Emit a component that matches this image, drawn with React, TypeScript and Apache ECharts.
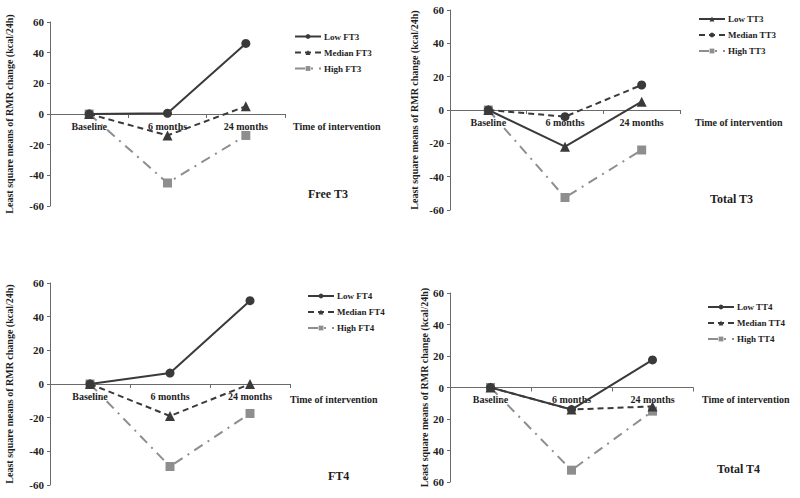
import React, { useEffect, useRef } from "react";
import * as echarts from "echarts";

const categories = ["Baseline", "6 months", "24 months"];
const yTicks = { min: -60, max: 60, interval: 20 };

// Panel 1: Free T3
const lowFT3 = [0, 0.5, 46];
const medianFT3 = [0, -14, 5];
const highFT3 = [0, -45, -14];
// Panel 2: Total T3
const lowTT3 = [0, -22, 5];
const medianTT3 = [0, -4, 15];
const highTT3 = [0, -52.5, -24];
// Panel 3: FT4
const lowFT4 = [0, 6.5, 49.5];
const medianFT4 = [0, -19, 0];
const highFT4 = [0, -49, -17.5];
// Panel 4: Total T4
const lowTT4 = [0, -14, 17.5];
const medianTT4 = [0, -14, -12];
const highTT4 = [0, -52.5, -15];

const panelTitles = ["Free T3", "Total T3", "FT4", "Total T4"];
const xAxisTitle = "Time of intervention";
const yAxisTitle = "Least square means of RMR change (kcal/24h)";

const FONT = "'Liberation Serif', 'DejaVu Serif', serif";
const DARK = "#3a3a3a";
const LIGHT = "#8e8e8e";
const TEXT = "#1e1e1e";

type Panel = {
  grid: { left: number; top: number; width: number; height: number };
  names: string[];
  symbols: string[];
  data: number[][];
  legend: { left: number; top: number };
  nameGap: number;
  absLabels?: boolean;
  xTitle: { x: number; y: number };
  title: { x: number; y: number; text: string };
};

const panels: Panel[] = [
  {
    grid: { left: 50, top: 22, width: 235, height: 184 },
    names: ["Low FT3", "Median FT3", "High FT3"],
    symbols: ["circle", "triangle", "rect"],
    data: [lowFT3, medianFT3, highFT3],
    legend: { left: 294, top: 32 },
    nameGap: 36,
    xTitle: { x: 293, y: 127 },
    title: { x: 308, y: 195, text: panelTitles[0] },
  },
  {
    grid: { left: 450, top: 10, width: 230, height: 200 },
    names: ["Low TT3", "Median TT3", "High TT3"],
    symbols: ["triangle", "circle", "rect"],
    data: [lowTT3, medianTT3, highTT3],
    legend: { left: 698, top: 14.5 },
    nameGap: 31,
    xTitle: { x: 695, y: 123 },
    title: { x: 710, y: 200, text: panelTitles[1] },
  },
  {
    grid: { left: 50, top: 283, width: 240, height: 202 },
    names: ["Low FT4", "Median FT4", "High FT4"],
    symbols: ["circle", "triangle", "rect"],
    data: [lowFT4, medianFT4, highFT4],
    legend: { left: 307, top: 291.5 },
    nameGap: 36,
    xTitle: { x: 290, y: 400 },
    title: { x: 328, y: 477, text: panelTitles[2] },
  },
  {
    grid: { left: 450, top: 293, width: 243, height: 189 },
    names: ["Low TT4", "Median TT4", "High TT4"],
    symbols: ["circle", "triangle", "rect"],
    data: [lowTT4, medianTT4, highTT4],
    legend: { left: 707, top: 302.5 },
    nameGap: 21,
    absLabels: true,
    xTitle: { x: 702, y: 400 },
    title: { x: 717, y: 470, text: panelTitles[3] },
  },
];

const lineTypes: any[] = ["solid", [6, 4], [10, 6, 2, 6]];
const colors = [DARK, DARK, LIGHT];

export default function App() {
  const ref = useRef<HTMLDivElement>(null);
  useEffect(() => {
    if (!ref.current) return;
    const chart = echarts.init(ref.current, undefined, { renderer: "svg" });
    const grid: any[] = [];
    const xAxis: any[] = [];
    const yAxis: any[] = [];
    const series: any[] = [];
    const legend: any[] = [];
    const graphic: any[] = [];
    panels.forEach((p, i) => {
      grid.push({ ...p.grid, containLabel: false });
      xAxis.push({
        type: "category",
        gridIndex: i,
        data: categories,
        boundaryGap: true,
        position: "bottom",
        // zero lies at the vertical centre of the symmetric -60..60 range
        offset: -p.grid.height / 2,
        axisLine: { onZero: false, lineStyle: { color: "#6a6a6a", width: 1 } },
        axisTick: { show: true, length: 4, lineStyle: { color: "#6a6a6a" } },
        axisLabel: {
          margin: 7,
          fontFamily: FONT,
          fontWeight: "bold",
          fontSize: 10,
          color: TEXT,
        },
      });
      yAxis.push({
        type: "value",
        gridIndex: i,
        min: yTicks.min,
        max: yTicks.max,
        interval: yTicks.interval,
        name: yAxisTitle,
        nameLocation: "middle",
        nameGap: p.nameGap,
        nameTextStyle: { fontFamily: FONT, fontWeight: "bold", fontSize: 10, color: TEXT },
        splitLine: { show: false },
        axisLine: { show: true, lineStyle: { color: "#6a6a6a", width: 1 } },
        axisTick: { show: true, length: 3, lineStyle: { color: "#6a6a6a" } },
        axisLabel: {
          margin: 6,
          fontFamily: FONT,
          fontWeight: "bold",
          fontSize: 11,
          color: TEXT,
          formatter: (v: number) => String(p.absLabels ? Math.abs(v) : v),
        },
      });
      p.names.forEach((n, k) => {
        series.push({
          type: "line",
          name: n,
          xAxisIndex: i,
          yAxisIndex: i,
          data: p.data[k],
          symbol: p.symbols[k],
          symbolSize: p.symbols[k] === "triangle" ? 10 : 9,
          showSymbol: true,
          color: colors[k],
          lineStyle: { color: colors[k], width: 2, type: lineTypes[k] },
          itemStyle: { color: colors[k] },
          z: 3 - k,
        });
      });
      legend.push({
        data: p.names,
        orient: "vertical",
        left: p.legend.left,
        top: p.legend.top,
        itemWidth: 26,
        itemHeight: 6,
        itemGap: 7,
        padding: 0,
        textStyle: {
          fontFamily: FONT,
          fontWeight: "bold",
          fontSize: 9,
          lineHeight: 9,
          color: TEXT,
          padding: [0, 0, 0, -2],
        },
      });
      graphic.push({
        type: "text",
        left: p.xTitle.x,
        top: p.xTitle.y - 6,
        style: { text: xAxisTitle, font: `bold 10px ${FONT}`, fill: TEXT },
      });
      graphic.push({
        type: "text",
        left: p.title.x,
        top: p.title.y - 7,
        style: { text: p.title.text, font: `bold 12px ${FONT}`, fill: TEXT },
      });
    });
    chart.setOption({
      animation: false,
      backgroundColor: "#ffffff",
      grid,
      xAxis,
      yAxis,
      series,
      legend,
      graphic,
    });
    return () => chart.dispose();
  }, []);
  return (
    <div
      ref={ref}
      style={{ position: "fixed", left: 0, top: 0, width: 800, height: 498 }}
    />
  );
}
